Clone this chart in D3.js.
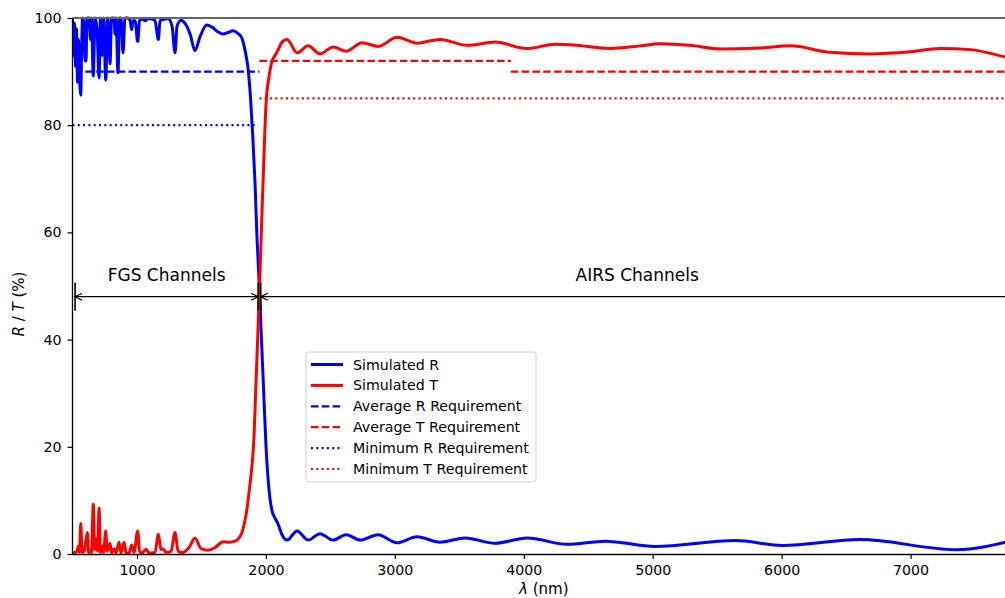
<!DOCTYPE html>
<html>
<head>
<meta charset="utf-8">
<script src="https://cdn.jsdelivr.net/npm/d3@7"></script>
<style>
  html, body { margin: 0; padding: 0; background: #fff; }
  svg { display: block; font-family: "DejaVu Sans", sans-serif; }
</style>
</head>
<body>
<svg id="chart" width="1005" height="598"></svg>
<script>
// Simulated reflectance R (%) versus wavelength (nm)
const rWavelength = [500, 508, 515, 523, 531, 539, 547, 554, 564, 570, 578, 589, 597, 605, 612, 628, 640, 647, 661, 675, 690, 706, 717, 729, 741, 758, 772, 783, 791, 803, 822, 830, 837, 853, 865, 876, 892, 907, 930, 946, 959, 969, 985, 1006, 1020, 1039, 1062, 1086, 1117, 1140, 1166, 1179, 1218, 1241, 1272, 1295, 1311, 1342, 1373, 1412, 1450, 1489, 1541, 1582, 1629, 1668, 1706, 1745, 1784, 1813, 1838, 1862, 1881, 1898, 1916, 1931, 1947, 1962, 1978, 2001, 2024, 2048, 2071, 2094, 2125, 2164, 2242, 2327, 2420, 2521, 2622, 2731, 2870, 3017, 3172, 3351, 3545, 3778, 4026, 4336, 4631, 5019, 5640, 6004, 6609, 7354, 7800];
const rValues     = [100, 93, 99, 91, 98, 88, 96, 90, 85.6, 93, 100, 99, 92, 92, 100, 100, 96, 100, 89.2, 100, 98, 88.8, 100, 93, 100, 88.4, 100, 97, 91.5, 100, 100, 97, 100, 89.8, 100, 100, 93.5, 100, 100, 99.6, 97.8, 99.5, 99.5, 95.6, 99.5, 99.8, 99.5, 99.9, 99.8, 99.5, 96, 99.5, 99.8, 99.9, 98.5, 93.5, 98.5, 99.6, 99.0, 97, 93.9, 96.5, 98.7, 98.3, 97.4, 97.0, 97.3, 97.6, 97.1, 96.3, 94, 90.5, 85, 78, 69, 59, 51, 42, 33, 20, 12, 8, 6.7, 5.6, 3.6, 2.6, 4.3, 2.6, 3.8, 2.6, 3.6, 2.6, 3.6, 2.1, 3.2, 2.2, 3.0, 2.0, 3.0, 1.8, 2.4, 1.4, 2.5, 1.6, 2.7, 0.8, 2.6];

// Simulated transmittance T (%) versus wavelength (nm)
const tWavelength = [500, 519, 535, 547, 554, 564, 574, 589, 601, 615, 624, 636, 647, 661, 672, 682, 694, 706, 717, 729, 741, 758, 768, 779, 791, 803, 824, 837, 861, 876, 900, 915, 938, 959, 977, 1006, 1020, 1039, 1070, 1093, 1140, 1166, 1187, 1202, 1225, 1264, 1295, 1319, 1357, 1404, 1450, 1497, 1551, 1605, 1668, 1714, 1761, 1792, 1813, 1831, 1852, 1869, 1890, 1908, 1923, 1939, 1955, 1970, 1986, 2001, 2024, 2048, 2071, 2094, 2125, 2164, 2242, 2327, 2420, 2521, 2622, 2746, 2870, 3017, 3172, 3351, 3560, 3778, 4026, 4243, 4359, 4670, 4903, 5058, 5290, 5523, 5833, 6066, 6376, 6687, 6997, 7230, 7463, 7734, 7800];
const tValues     = [0, 0.3, 0.5, 1.5, 0.3, 5.7, 0.3, 0.5, 2.0, 4.0, 0.3, 0.5, 0.3, 9.3, 0.8, 2.9, 0.5, 8.6, 0.3, 1.5, 0.3, 4.3, 0.5, 1.2, 2.0, 0.2, 1.0, 0.2, 2.2, 0.2, 2.2, 0.2, 0.1, 1.7, 0.3, 4.3, 0.5, 0.2, 0.9, 0.2, 0.3, 3.7, 0.8, 1.0, 0.3, 0.5, 4.0, 0.5, 0.3, 1.2, 3.0, 1.0, 0.7, 1.2, 2.3, 2.2, 2.4, 3.0, 3.9, 5.5, 8.2, 11.5, 16, 22, 32, 42, 53, 64, 75, 84, 89, 92, 93, 94, 95.5, 96.0, 93.5, 94.8, 93.3, 94.6, 93.8, 95.4, 94.7, 96.4, 95.3, 96.0, 94.9, 95.5, 94.3, 95.1, 95.0, 94.3, 94.8, 95.2, 94.9, 94.2, 94.4, 94.8, 93.6, 93.3, 93.7, 94.3, 94.1, 92.7, 92.3];

// Requirement levels: [start nm, end nm, level %]
const avgRRequirement = [[600, 1950, 90]];
const minRRequirement = [[500, 1940, 80]];
const avgTRequirement = [[1950, 3900, 92], [3900, 7800, 90]];
const minTRequirement = [[1950, 7800, 85]];

// Channel bands: [start nm, end nm, label]
const channelBands = [[520, 1940, "FGS Channels"], [1960, 7800, "AIRS Channels"]];
const bandMarkerLevel = 48;

const xTicks = [1000, 2000, 3000, 4000, 5000, 6000, 7000];
const yTicks = [0, 20, 40, 60, 80, 100];

const legendItems = [
  { label: "Simulated R", color: "blue", style: "solid" },
  { label: "Simulated T", color: "red", style: "solid" },
  { label: "Average R Requirement", color: "blue", style: "dashed" },
  { label: "Average T Requirement", color: "red", style: "dashed" },
  { label: "Minimum R Requirement", color: "blue", style: "dotted" },
  { label: "Minimum T Requirement", color: "red", style: "dotted" }
];

const svg = d3.select("#chart");
const plotLeft = 72.5, plotRight = 1006, plotTop = 18, plotBottom = 554;

const x = d3.scaleLinear().domain([500, 7740]).range([plotLeft, plotRight]);
const y = d3.scaleLinear().domain([0, 100]).range([plotBottom, plotTop]);

const dashFor = { solid: null, dashed: "7.5,3.3", dotted: "2,3.3" };

svg.append("defs").append("clipPath").attr("id", "plotClip")
  .append("rect").attr("x", plotLeft).attr("y", plotTop - 2)
  .attr("width", 1005 - plotLeft).attr("height", plotBottom - plotTop + 4);

const plot = svg.append("g").attr("clip-path", "url(#plotClip)");

// Requirement lines
function drawRequirement(segments, color, style) {
  plot.selectAll(null).data(segments).enter().append("line")
    .attr("x1", d => x(d[0])).attr("x2", d => x(d[1]))
    .attr("y1", d => y(d[2])).attr("y2", d => y(d[2]))
    .attr("stroke", color).attr("stroke-width", 2.2)
    .attr("stroke-dasharray", dashFor[style]);
}
drawRequirement(avgRRequirement, "blue", "dashed");
drawRequirement(avgTRequirement, "red", "dashed");
drawRequirement(minRRequirement, "blue", "dotted");
drawRequirement(minTRequirement, "red", "dotted");

// Simulated curves
const line = d3.line().x(d => x(d[0])).y(d => y(d[1])).curve(d3.curveMonotoneX);
plot.append("path").datum(d3.zip(rWavelength, rValues))
  .attr("d", line).attr("fill", "none").attr("stroke", "blue")
  .attr("stroke-width", 3).attr("stroke-linejoin", "round");
plot.append("path").datum(d3.zip(tWavelength, tValues))
  .attr("d", line).attr("fill", "none").attr("stroke", "red")
  .attr("stroke-width", 3).attr("stroke-linejoin", "round");

// Channel band arrows with end markers
const by = y(bandMarkerLevel);
function arrowHead(g, px, dir) {
  g.append("path")
    .attr("d", `M${px + dir * 7},${by - 3.5} L${px},${by} L${px + dir * 7},${by + 3.5}`)
    .attr("fill", "none").attr("stroke", "black").attr("stroke-width", 1.3);
}
channelBands.forEach(b => {
  const x0 = x(b[0]), x1 = x(b[1]);
  const g = svg.append("g");
  g.append("line").attr("x1", x0).attr("x2", x1).attr("y1", by).attr("y2", by)
    .attr("stroke", "black").attr("stroke-width", 1.3);
  arrowHead(g, x0, 1);
  arrowHead(g, x1, -1);
  g.append("text").attr("x", (x0 + x1) / 2).attr("y", by - 16)
    .attr("text-anchor", "middle").attr("font-size", 17).text(b[2]);
});
[520, 1940, 1960].forEach(v => {
  svg.append("line").attr("x1", x(v)).attr("x2", x(v))
    .attr("y1", by - 14).attr("y2", by + 14)
    .attr("stroke", "black").attr("stroke-width", 1.6);
});

// Spines
svg.append("line").attr("x1", plotLeft).attr("x2", 1005).attr("y1", plotTop).attr("y2", plotTop)
  .attr("stroke", "#666").attr("stroke-width", 2);

const xAxis = svg.append("g").attr("transform", `translate(0,${plotBottom})`)
  .call(d3.axisBottom(x).tickValues(xTicks).tickSize(5).tickPadding(6).tickFormat(d3.format("d")));
const yAxis = svg.append("g").attr("transform", `translate(${plotLeft},0)`)
  .call(d3.axisLeft(y).tickValues(yTicks).tickSize(5).tickPadding(6).tickFormat(d3.format("d")));
[xAxis, yAxis].forEach(a => {
  a.selectAll("text").attr("font-size", 14.2).attr("font-family", "DejaVu Sans").attr("fill", "black");
  a.selectAll("line").attr("stroke", "black").attr("stroke-width", 1.2);
  a.select(".domain").attr("stroke", "black").attr("stroke-width", 1.3);
});
xAxis.select(".domain").attr("d", `M${plotLeft},0.5H1005`);
yAxis.select(".domain").attr("d", `M0,${plotTop}V${plotBottom}`);

// Axis labels
const xl = svg.append("text").attr("x", x(4000) + 20).attr("y", 594)
  .attr("text-anchor", "middle").attr("font-size", 15);
xl.append("tspan").attr("font-style", "italic").text("λ");
xl.append("tspan").text(" (nm)");

const yl = svg.append("text").attr("transform", `translate(24,${y(50) + 18}) rotate(-90)`)
  .attr("text-anchor", "middle").attr("font-size", 15);
yl.append("tspan").attr("font-style", "italic").text("R");
yl.append("tspan").text(" / ");
yl.append("tspan").attr("font-style", "italic").text("T");
yl.append("tspan").text(" (%)");

// Legend
const legend = svg.append("g").attr("transform", "translate(306,352)");
legend.append("rect").attr("width", 230).attr("height", 130).attr("rx", 3)
  .attr("fill", "white").attr("fill-opacity", 0.85).attr("stroke", "#d0d0d0");
legendItems.forEach((d, i) => {
  const ly = 12.5 + i * 20.9;
  legend.append("line").attr("x1", 5).attr("x2", 37).attr("y1", ly).attr("y2", ly)
    .attr("stroke", d.color).attr("stroke-width", d.style === "solid" ? 3 : 2.2)
    .attr("stroke-dasharray", dashFor[d.style]);
  legend.append("text").attr("x", 47).attr("y", ly + 5).attr("font-size", 14.2).text(d.label);
});
</script>
</body>
</html>
